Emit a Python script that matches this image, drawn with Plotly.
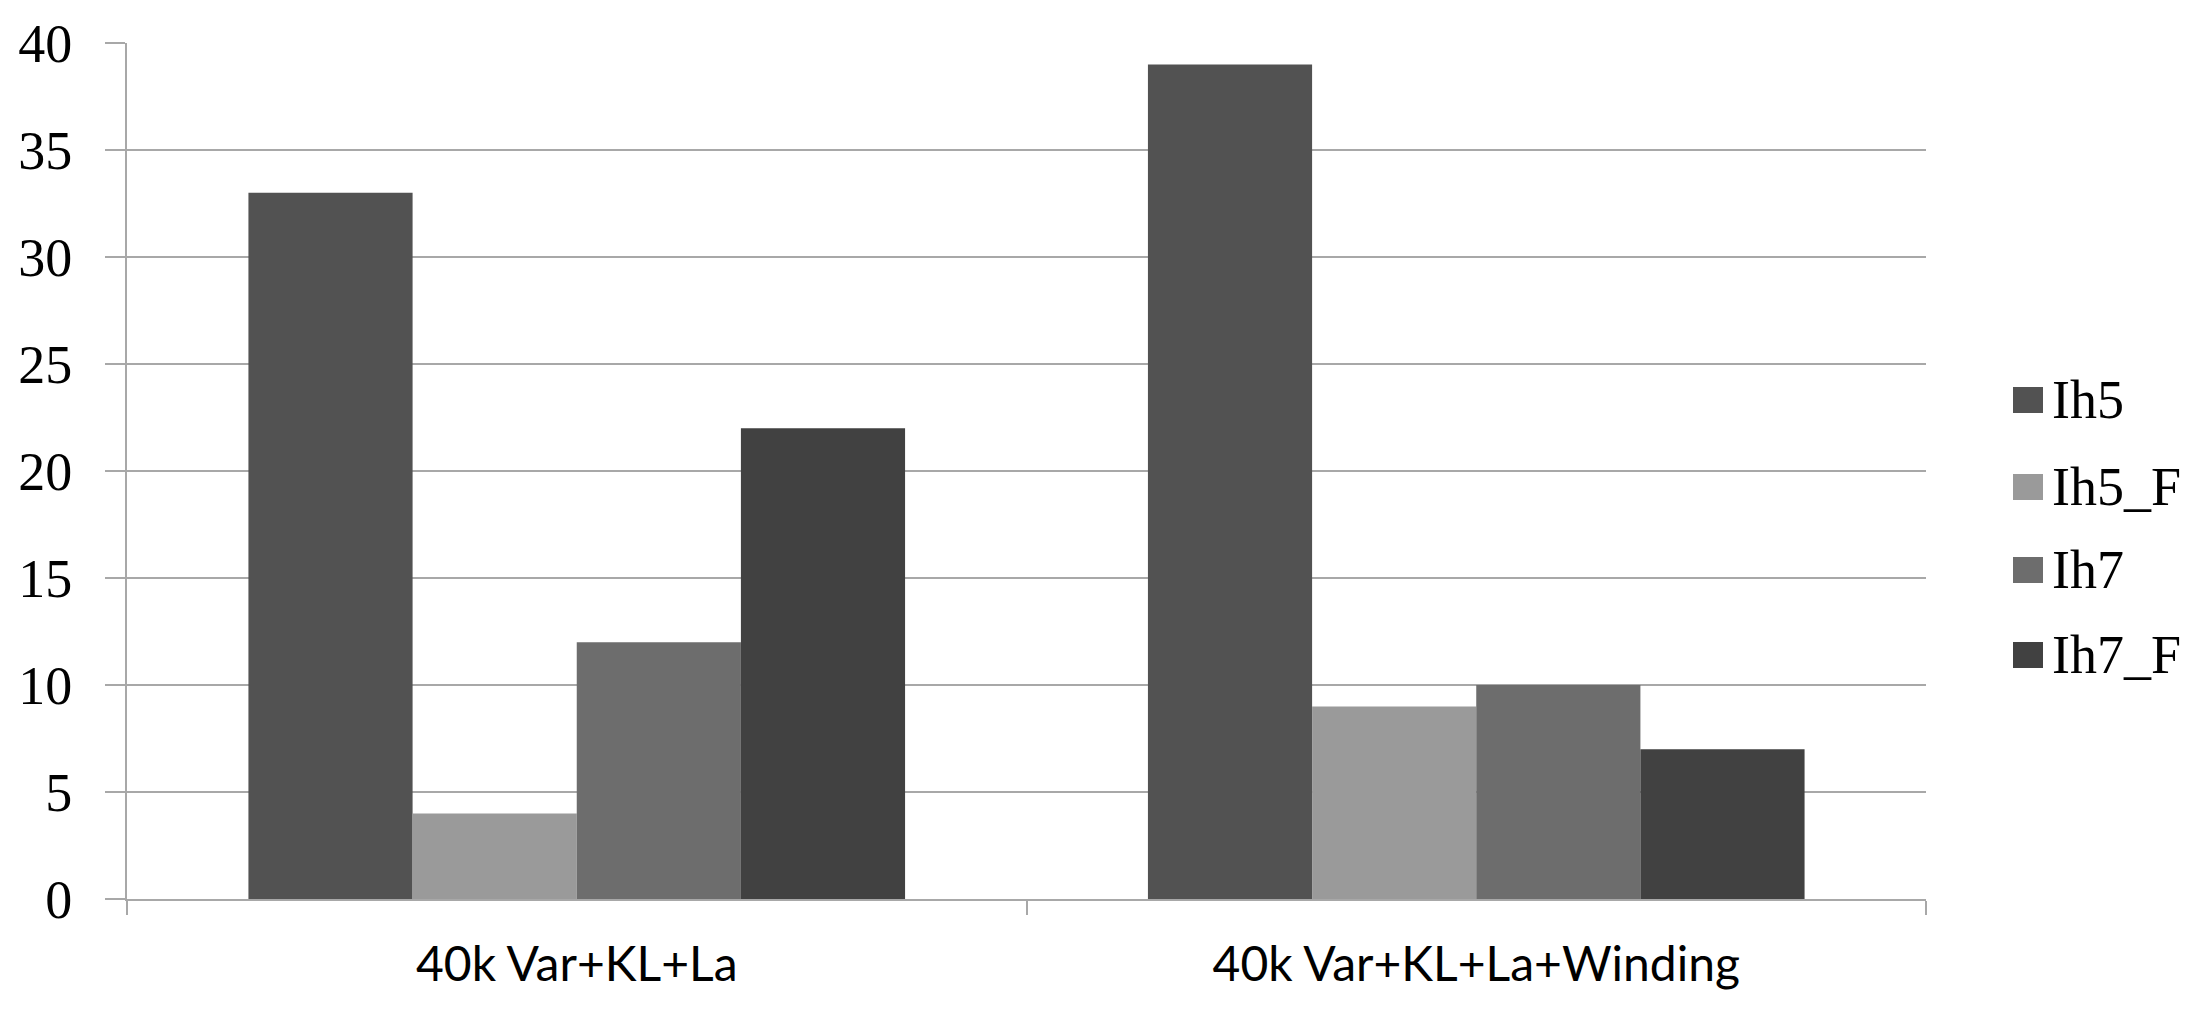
import plotly.graph_objects as go

categories = ["40k Var+KL+La", "40k Var+KL+La+Winding"]
series_names = ["Ih5", "Ih5_F", "Ih7", "Ih7_F"]
ih5 = [33, 39]
ih5_f = [4, 9]
ih7 = [12, 10]
ih7_f = [22, 7]
y_ticks = [0, 5, 10, 15, 20, 25, 30, 35, 40]

values = [ih5, ih5_f, ih7, ih7_f]
colors = ["#525252", "#9a9a9a", "#6d6d6d", "#414141"]

OFF = 8  # browser body margin
W, H = 2208, 1014
L, R, T, B = 127 - OFF, 282 + OFF, 43 - OFF, 115 + OFF
pw, ph = W - L - R, H - T - B

fig = go.Figure()
for name, vals, col in zip(series_names, values, colors):
    fig.add_trace(go.Bar(x=categories, y=vals, name=name, marker=dict(color=col, line=dict(width=0)),
                         showlegend=False))

grid = "#a8a8a8"
fig.update_layout(
    width=W, height=H,
    margin=dict(l=L, r=R, t=T, b=B, autoexpand=False),
    paper_bgcolor="white", plot_bgcolor="white",
    barmode="group", bargap=0.27, bargroupgap=0,
    xaxis=dict(type="category", showgrid=False, showline=True, linecolor=grid, linewidth=2,
               automargin=False,
               ticks="outside", tickson="boundaries", ticklen=14, tickcolor=grid, tickwidth=2,
               tickfont=dict(family="Lato, sans-serif", size=48, color="black"),
               ticklabelstandoff=22),
    yaxis=dict(range=[0, 40], tickvals=y_ticks, showgrid=True, gridcolor=grid, gridwidth=2,
               automargin=False,
               showline=True, linecolor=grid, linewidth=2, zeroline=False,
               ticks="outside", ticklen=20, tickcolor=grid, tickwidth=2,
               tickfont=dict(family="Liberation Serif, serif", size=54, color="black"),
               ticklabelstandoff=22),
)

# legend drawn at page pixel positions converted to paper coordinates
def px_x(x):
    return (x - OFF - L) / pw

def px_y(y):
    return (H - B - (y - OFF)) / ph

legend_y = [400, 487, 570, 655]
for name, col, yc in zip(series_names, colors, legend_y):
    fig.add_shape(type="rect", xref="paper", yref="paper",
                  x0=px_x(2013), x1=px_x(2043), y0=px_y(yc + 13), y1=px_y(yc - 13),
                  fillcolor=col, line=dict(width=0))
    fig.add_annotation(xref="paper", yref="paper", x=px_x(2050), y=px_y(yc), text=name,
                       xanchor="left", yanchor="middle", showarrow=False,
                       font=dict(family="Liberation Serif, serif", size=54, color="black"))

fig.write_html("out.html")
